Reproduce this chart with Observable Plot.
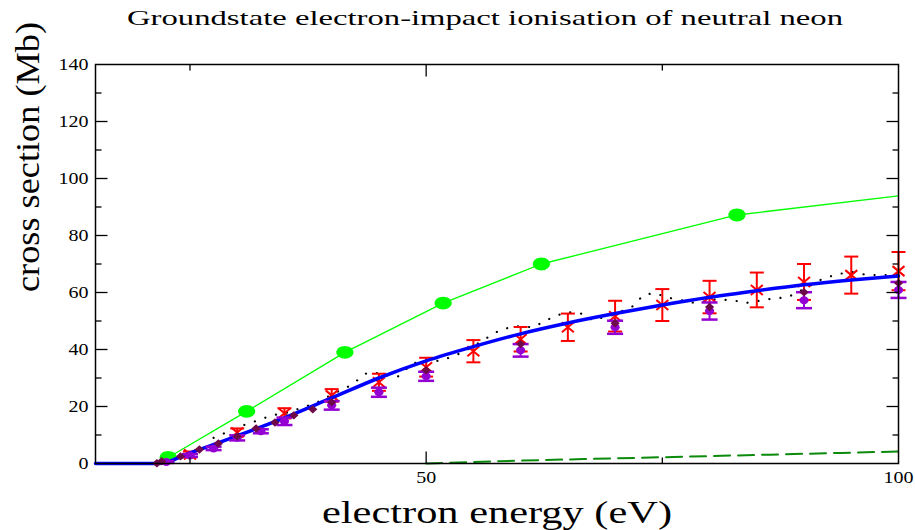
<!DOCTYPE html>
<html><head><meta charset="utf-8">
<script src="https://cdn.jsdelivr.net/npm/d3@7"></script>
<script src="https://cdn.jsdelivr.net/npm/@observablehq/plot@0.6"></script>
<style>
body{margin:0;background:#fff;}
#title{position:relative;height:40px;width:915px;font-family:"Liberation Serif","Times New Roman",serif;}
#title span{position:absolute;left:127px;top:7px;font-size:22px;line-height:22px;white-space:nowrap;transform-origin:0 0;color:#000;}
</style></head><body>
<div id="title"><span id="tspan"></span></div>
<div id="chart"></div>
<script>
const titleText = "Groundstate electron-impact ionisation of neutral neon";
const xLabel = "electron energy (eV)";
const yLabel = "cross section (Mb)";

// tick values
const xTickLabels = [50, 100];
const yTickLabels = [0, 20, 40, 60, 80, 100, 120, 140];
const xMajorTicks = [50];
const xMinorTicks = [25, 75];
const yMajorTicks = [20, 40, 60, 80, 100, 120];
const yMinorTicks = [10, 30, 50, 70, 90, 110, 130];

// green circles (pseudo-state calculation) and its curve
const greenE = [22.7, 31.0, 41.4, 51.8, 62.2, 82.9];
const greenS = [2.1, 18.3, 39.0, 56.3, 70.0, 87.2];
const greenCurveE = [22.7, 31.0, 41.4, 51.8, 62.2, 82.9, 100];
const greenCurveS = [2.1, 18.3, 39.0, 56.3, 70.0, 87.2, 93.9];

// blue theory curve
const blueE = [15, 21.7, 25, 30, 35, 40, 45, 50, 55, 60, 65, 70, 75, 80, 85, 90, 95, 100];
const blueS = [0, 0, 3.7, 9.7, 16.0, 23.0, 30.0, 36.0, 41.0, 45.5, 49.3, 52.6, 55.6, 58.3, 60.6, 62.7, 64.4, 65.8];

// dark green dashed curve
const dashE = [50, 60, 70, 80, 90, 100];
const dashS = [0, 1.0, 1.8, 2.6, 3.4, 4.2];

// black dotted curve
const dotE = [27.5, 30.3, 31.9, 33.7, 35.3, 37.0, 38.5, 40.2, 42.0, 43.7, 45.1, 46.9, 48.6, 51.7, 53.9, 56.2, 57.8, 59.4, 61.3, 63.6, 65.0, 66.3, 67.6, 69.8, 71.9, 73.0, 74.1, 75.9, 78.5, 80.8, 82.9, 83.8, 86.4, 88.3, 89.8, 91.9, 93.6, 95.2, 96.7, 98.8, 100];
const dotS = [9.0, 13.0, 14.8, 16.9, 17.9, 19.7, 21.5, 24.5, 27.4, 31.7, 31.7, 30.2, 35.2, 36.2, 39.0, 43.6, 46.8, 48.2, 47.8, 51.7, 53.1, 52.8, 50.3, 52.1, 55.2, 59.1, 59.8, 58.0, 56.3, 57.7, 57.0, 56.3, 57.7, 58.4, 60.9, 64.7, 66.5, 67.2, 66.1, 66.1, 66.5];

// red crosses with error bars
const redE = [25, 30, 35, 40, 45, 50, 55, 60, 65, 70, 75, 80, 85, 90, 95, 100];
const redS = [3.2, 10.9, 17.6, 23.9, 28.5, 33.8, 39.4, 43.6, 47.8, 51.7, 55.6, 58.4, 60.9, 63.7, 66.1, 67.5];
const redErr = [1.0, 1.4, 1.8, 2.2, 3.0, 3.3, 3.9, 4.3, 4.8, 5.4, 5.6, 5.7, 6.1, 6.3, 6.5, 6.7];

// purple circles with error bars
const purpleE = [22.5, 25, 27.5, 30, 32.5, 35, 40, 45, 50, 60, 70, 80, 90, 100];
const purpleS = [0.5, 2.8, 5.3, 9.0, 11.3, 14.8, 20.4, 25.0, 30.6, 39.7, 47.8, 53.5, 57.3, 60.9];
const purpleErr = [0.3, 0.5, 0.6, 0.9, 0.7, 1.3, 1.5, 1.6, 1.6, 2.2, 2.3, 3.0, 2.8, 2.8];

// maroon diamonds
const maroonE = [21.5, 22, 24, 26, 28, 30, 32, 34, 36, 38, 40, 50, 60, 70, 80, 90, 100];
const maroonS = [0.1, 0.8, 2.5, 4.9, 7.0, 9.5, 12.3, 14.4, 16.9, 19.0, 21.5, 32.7, 41.9, 49.2, 54.9, 60.1, 63.3];

const zip = (E, S, Err) => E.map((e, i) => ({e, s: S[i], err: Err ? Err[i] : 0}));
const green = zip(greenE, greenS), greenCurve = zip(greenCurveE, greenCurveS);
const blue = zip(blueE, blueS), dash = zip(dashE, dashS), dotted = zip(dotE, dotS);
const red = zip(redE, redS, redErr), purple = zip(purpleE, purpleS, purpleErr), maroon = zip(maroonE, maroonS);

// custom symbols
const K = 0.5523;
const ellipse = (rx, ry) => ({draw(c) {
  c.moveTo(rx, 0);
  c.bezierCurveTo(rx, ry * K, rx * K, ry, 0, ry);
  c.bezierCurveTo(-rx * K, ry, -rx, ry * K, -rx, 0);
  c.bezierCurveTo(-rx, -ry * K, -rx * K, -ry, 0, -ry);
  c.bezierCurveTo(rx * K, -ry, rx, -ry * K, rx, 0);
  c.closePath();
}});
const cross = (w, h) => ({draw(c) { c.moveTo(-w, -h); c.lineTo(w, h); c.moveTo(-w, h); c.lineTo(w, -h); }});
const cap = (w) => ({draw(c) { c.moveTo(-w, 0); c.lineTo(w, 0); }});
const diamond = (w, h) => ({draw(c) { c.moveTo(0, -h); c.lineTo(w, 0); c.lineTo(0, h); c.lineTo(-w, 0); c.closePath(); }});
const vTick = (len) => ({draw(c) { c.moveTo(0, 0); c.lineTo(0, len); }});
const hTick = (len) => ({draw(c) { c.moveTo(0, 0); c.lineTo(len, 0); }});

const serif = "'Liberation Serif', 'Times New Roman', serif";
const tickStyle = {stroke: "black", strokeWidth: 1.3, fill: "none"};

const plot = Plot.plot({
  width: 915, height: 490,
  marginTop: 24, marginBottom: 67, marginLeft: 95, marginRight: 17,
  x: {domain: [15, 100]},
  y: {domain: [0, 140]},
  style: {fontFamily: serif, fontSize: "16px", background: "white", color: "black", overflow: "visible"},
  marks: [
    Plot.axisX({ticks: xTickLabels, tickSize: 0, tickPadding: 8, tickFormat: d => String(d), label: null, fontFamily: serif}),
    Plot.axisY({ticks: yTickLabels, tickSize: 0, tickPadding: 7, tickFormat: d => String(d), label: null, fontFamily: serif}),
    // dashed dark green
    Plot.line(dash, {x: "e", y: "s", stroke: "#0b8a0b", strokeWidth: 2, strokeDasharray: "16,8", curve: "monotone-x"}),
    // green curve + circles
    Plot.line(greenCurve, {x: "e", y: "s", stroke: "#00ff00", strokeWidth: 1.3}),
    Plot.dot(green, {x: "e", y: "s", symbol: ellipse(8.6, 6.4), fill: "#00ff00", r: 5}),
    // dotted black
    Plot.line(dotted, {x: "e", y: "s", stroke: "black", strokeWidth: 2.2, strokeDasharray: "0.1,11", strokeLinecap: "round"}),
    // red error bars and crosses
    Plot.ruleX(red, {x: "e", y1: d => d.s - d.err, y2: d => d.s + d.err, stroke: "#ff0000", strokeWidth: 2}),
    Plot.dot(red, {x: "e", y: d => d.s - d.err, symbol: cap(7), stroke: "#ff0000", strokeWidth: 2, fill: "none"}),
    Plot.dot(red, {x: "e", y: d => d.s + d.err, symbol: cap(7), stroke: "#ff0000", strokeWidth: 2, fill: "none"}),
    Plot.dot(red, {x: "e", y: "s", symbol: cross(6, 5), stroke: "#ff0000", strokeWidth: 2, fill: "none"}),
    // blue theory
    Plot.line(blue, {x: "e", y: "s", stroke: "#0000ff", strokeWidth: 3.5, curve: "monotone-x"}),
    // purple
    Plot.ruleX(purple, {x: "e", y1: d => d.s - d.err, y2: d => d.s + d.err, stroke: "#9400d3", strokeWidth: 2}),
    Plot.dot(purple, {x: "e", y: d => d.s - d.err, symbol: cap(8), stroke: "#9400d3", strokeWidth: 2.5, fill: "none"}),
    Plot.dot(purple, {x: "e", y: d => d.s + d.err, symbol: cap(8), stroke: "#9400d3", strokeWidth: 2.5, fill: "none"}),
    Plot.dot(purple, {x: "e", y: "s", symbol: ellipse(4.6, 4), fill: "#9400d3"}),
    // maroon diamonds
    Plot.dot(maroon, {x: "e", y: "s", symbol: diamond(4.6, 4.2), fill: "#6e0a4a"}),
    // frame and inward ticks
    Plot.frame({stroke: "black", strokeWidth: 1.5}),
    Plot.dot(xMajorTicks, {x: d => d, frameAnchor: "bottom", symbol: vTick(-12), ...tickStyle}),
    Plot.dot(xMinorTicks, {x: d => d, frameAnchor: "bottom", symbol: vTick(-6), ...tickStyle}),
    Plot.dot(xMajorTicks, {x: d => d, frameAnchor: "top", symbol: vTick(12), ...tickStyle}),
    Plot.dot(xMinorTicks, {x: d => d, frameAnchor: "top", symbol: vTick(6), ...tickStyle}),
    Plot.dot(yMajorTicks, {y: d => d, frameAnchor: "left", symbol: hTick(12), ...tickStyle}),
    Plot.dot(yMinorTicks, {y: d => d, frameAnchor: "left", symbol: hTick(6), ...tickStyle}),
    Plot.dot(yMajorTicks, {y: d => d, frameAnchor: "right", symbol: hTick(-12), ...tickStyle}),
    Plot.dot(yMinorTicks, {y: d => d, frameAnchor: "right", symbol: hTick(-6), ...tickStyle}),
    // axis titles
    Plot.text([xLabel], {text: d => d, frameAnchor: "bottom", dy: 49, fontSize: 32, fontFamily: serif, lineAnchor: "middle", fill: "black"}),
    Plot.text([yLabel], {text: d => d, frameAnchor: "left", dx: -67, dy: 28, rotate: -90, fontSize: 33, fontFamily: serif, lineAnchor: "middle", fill: "black"})
  ]
});

document.getElementById("chart").append(plot);
const tspan = document.getElementById("tspan");
tspan.textContent = titleText;

function fit(el, target) {
  const w = el.getComputedTextLength();
  if (w > 0) { el.setAttribute("textLength", target); el.setAttribute("lengthAdjust", "spacingAndGlyphs"); }
}
plot.querySelectorAll("text").forEach(t => {
  const s = t.textContent.trim();
  if (s === xLabel) fit(t, 350);
  else if (s === yLabel) fit(t, 270);
  else if (/^\d+$/.test(s)) fit(t, t.getComputedTextLength() * 1.25);
});
const tw = tspan.getBoundingClientRect().width;
if (tw > 0) tspan.style.transform = `scaleX(${716 / tw})`;
</script>
</body></html>
